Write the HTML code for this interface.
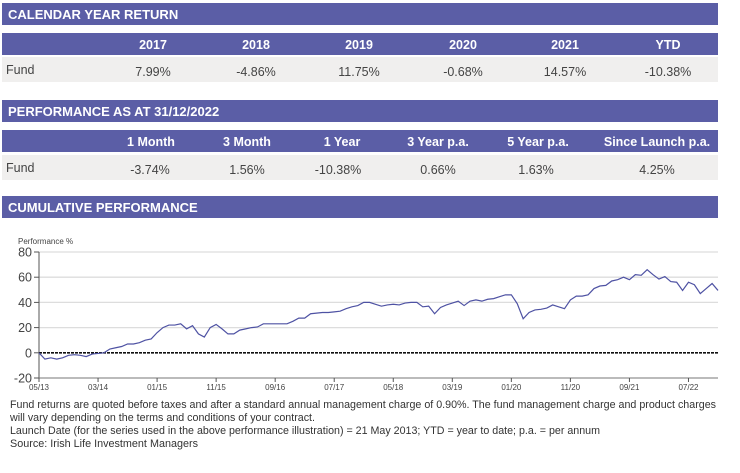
<!DOCTYPE html>
<html><head><meta charset="utf-8"><style>
body{margin:0;background:#fff;width:740px;height:473px;overflow:hidden}
svg{display:block;font-family:"Liberation Sans",Arial,sans-serif}
</style></head><body>
<svg id="s" width="740" height="473" viewBox="0 0 740 473" xmlns="http://www.w3.org/2000/svg">
<g>
<rect x="2" y="3" width="716" height="22" fill="#5b5ea6"/>
<text x="8" y="19" font-size="13" font-weight="bold" fill="#fff">CALENDAR YEAR RETURN</text>
<rect x="2" y="33" width="716" height="22" fill="#5b5ea6"/>
<rect x="2" y="57" width="716" height="25" fill="#f0efee"/>
<text x="6" y="74" font-size="12.5" fill="#444">Fund</text>
<g font-size="12.5" text-anchor="middle">
<text x="153" y="49" font-weight="bold" fill="#fff">2017</text>
<text x="256" y="49" font-weight="bold" fill="#fff">2018</text>
<text x="359" y="49" font-weight="bold" fill="#fff">2019</text>
<text x="463" y="49" font-weight="bold" fill="#fff">2020</text>
<text x="565" y="49" font-weight="bold" fill="#fff">2021</text>
<text x="668" y="49" font-weight="bold" fill="#fff">YTD</text>
<text x="153" y="76" fill="#444">7.99%</text>
<text x="256" y="76" fill="#444">-4.86%</text>
<text x="359" y="76" fill="#444">11.75%</text>
<text x="463" y="76" fill="#444">-0.68%</text>
<text x="565" y="76" fill="#444">14.57%</text>
<text x="668" y="76" fill="#444">-10.38%</text>
</g></g>
<g>
<rect x="2" y="100" width="716" height="22" fill="#5b5ea6"/>
<text x="8" y="116" font-size="13" font-weight="bold" fill="#fff">PERFORMANCE AS AT 31/12/2022</text>
<rect x="2" y="130" width="716" height="22" fill="#5b5ea6"/>
<rect x="2" y="155" width="716" height="25" fill="#f0efee"/>
<text x="6" y="172" font-size="12.5" fill="#444">Fund</text>
<g font-size="12.5" text-anchor="middle">
<text x="151" y="146" font-weight="bold" fill="#fff">1 Month</text>
<text x="247" y="146" font-weight="bold" fill="#fff">3 Month</text>
<text x="342" y="146" font-weight="bold" fill="#fff">1 Year</text>
<text x="438" y="146" font-weight="bold" fill="#fff">3 Year p.a.</text>
<text x="538" y="146" font-weight="bold" fill="#fff">5 Year p.a.</text>
<text x="657" y="146" font-weight="bold" fill="#fff">Since Launch p.a.</text>
<text x="150" y="174" fill="#444">-3.74%</text>
<text x="247" y="174" fill="#444">1.56%</text>
<text x="338" y="174" fill="#444">-10.38%</text>
<text x="438" y="174" fill="#444">0.66%</text>
<text x="536" y="174" fill="#444">1.63%</text>
<text x="657" y="174" fill="#444">4.25%</text>
</g></g>
<rect x="2" y="196" width="716" height="22" fill="#5b5ea6"/>
<text x="8" y="212" font-size="13" font-weight="bold" fill="#fff">CUMULATIVE PERFORMANCE</text>
<g id="chart"></g>
<g font-size="11" fill="#333">
<text x="10" y="408" textLength="706" lengthAdjust="spacingAndGlyphs">Fund returns are quoted before taxes and after a standard annual management charge of 0.90%. The fund management charge and product charges</text>
<text x="10" y="421" textLength="305" lengthAdjust="spacingAndGlyphs">will vary depending on the terms and conditions of your contract.</text>
<text x="10" y="434" textLength="590" lengthAdjust="spacingAndGlyphs">Launch Date (for the series used in the above performance illustration) = 21 May 2013; YTD = year to date; p.a. = per annum</text>
<text x="10" y="447" textLength="188" lengthAdjust="spacingAndGlyphs">Source: Irish Life Investment Managers</text>
</g>
</svg>
<script>
const values=[0,-5,-4,-5,-4,-2,-1.5,-2,-3,-1,-0.5,0,3,4,5,7,7,8,10,11,16,20,22,22,23,19,21.5,15,12.5,20,22.5,19,15,15,18,19,20,20.5,23,23,23,23,23,25,27.5,27.5,31,31.5,32,32,32.5,33,35,36.5,37.5,40,40,38.5,37,38,38.5,38,39.5,40,40,36.5,37,31,36,38,39.5,41,37.5,41,42,41,42.5,43,44.5,46,46,39,27,32,34,34.5,35.5,38,36.5,35,42,45,45,46,51,53,53.5,57,58,60,58,62,61.5,66,62,58.5,60.5,56.5,56,49.5,56,54,47,51,55,49.5];
const yTicks=[80,60,40,20,0,-20];
const xTickLabels=["05/13","03/14","01/15","11/15","09/16","07/17","05/18","03/19","01/20","11/20","09/21","07/22"];
const xTickMonths=[0,10,20,30,40,50,60,70,80,90,100,110];
const NS="http://www.w3.org/2000/svg";
const g=document.getElementById('chart');
const x0=39,x1=718,yTop=252,yBot=378,vMin=-20,vMax=80,nMonths=115;
const X=m=>x0+(x1-x0)*m/nMonths;
const Y=v=>yBot-(yBot-yTop)*(v-vMin)/(vMax-vMin);
function mk(t,a){const e=document.createElementNS(NS,t);for(const k in a)e.setAttribute(k,a[k]);g.appendChild(e);return e;}
let t=mk('text',{x:18,y:244,'font-size':8,fill:'#444'});t.textContent='Performance %';


yTicks.forEach(v=>{
 if(v!==vMin&&v!==0){const l=mk('line',{x1:x0,x2:x1,y1:Y(v),y2:Y(v),stroke:'#ddd','stroke-width':1.3});
 
 }
 const tk=mk('line',{x1:x0-5,x2:x0,y1:Y(v),y2:Y(v),stroke:'#555'});
 
 
 const tx=mk('text',{x:x0-7,y:Y(v)+4.5,'font-size':12.5,fill:'#444','text-anchor':'end'});tx.textContent=v;
 
 
});
let ax=mk('line',{x1:x0,x2:x0,y1:Y(vMax),y2:yBot,stroke:'#555'});


let xa=mk('line',{x1:x0,x2:x1,y1:yBot,y2:yBot,stroke:'#777'});


let zl=mk('line',{x1:x0,x2:x1,y1:Y(0),y2:Y(0),stroke:'#111','stroke-width':1.6,'stroke-dasharray':'3 1'});


xTickMonths.forEach((m,i)=>{
 const tk=mk('line',{x1:X(m),x2:X(m),y1:yBot,y2:yBot+4,stroke:'#555'});
 
 
 const tx=mk('text',{x:X(m),y:yBot+12,'font-size':8,fill:'#444','text-anchor':'middle'});tx.textContent=xTickLabels[i];
 
 
});
const p=mk('polyline',{points:values.map((v,i)=>X(i)+','+Y(v)).join(' '),fill:'none',stroke:'#4e52a3','stroke-width':1.2});


</script>
</body></html>
